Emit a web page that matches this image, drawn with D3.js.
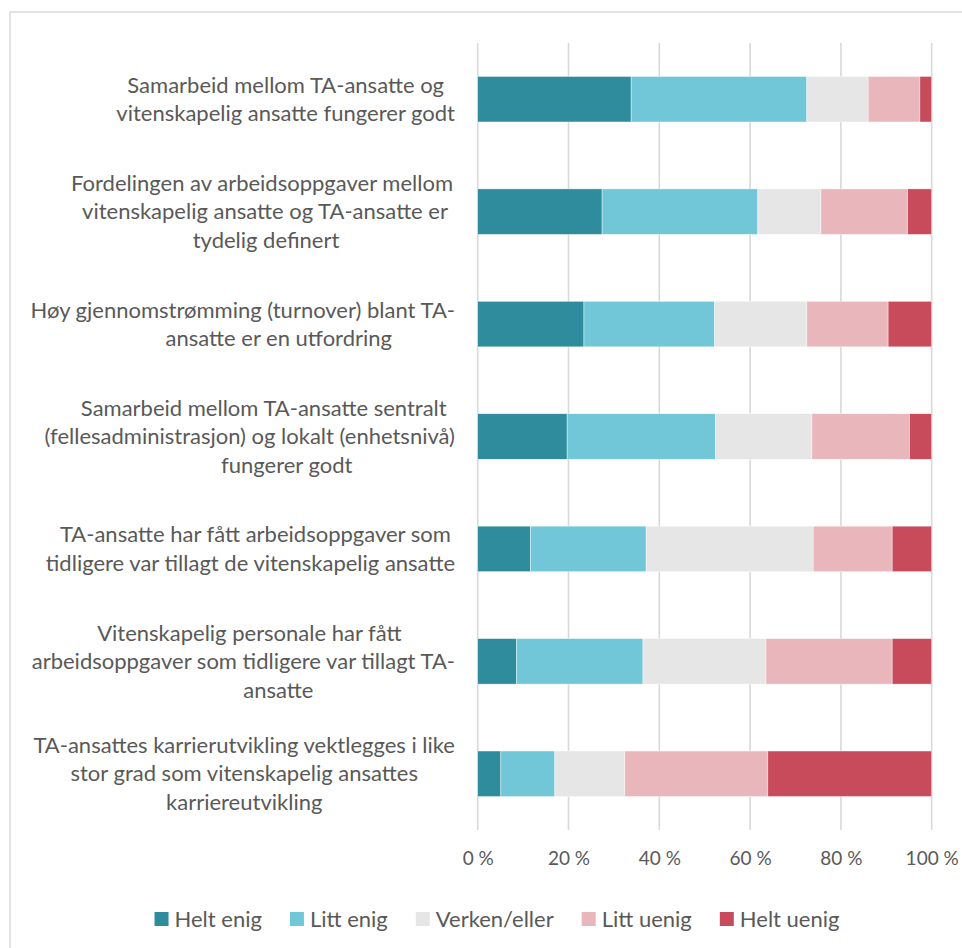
<!DOCTYPE html>
<html>
<head>
<meta charset="utf-8">
<script src="https://cdn.jsdelivr.net/npm/d3@7"></script>
<style>
  html, body { margin: 0; padding: 0; background: #fff; }
  svg { display: block; }
  text { font-family: Lato, "Open Sans", sans-serif; fill: #595959; }
</style>
</head>
<body>
<svg id="chart" width="962" height="948"></svg>
<script>
// Statements (line breaks mark where each label wraps)
const categories = [
  "Samarbeid mellom TA-ansatte og\nvitenskapelig ansatte fungerer godt",
  "Fordelingen av arbeidsoppgaver mellom\nvitenskapelig ansatte og TA-ansatte er\ntydelig definert",
  "Høy gjennomstrømming (turnover) blant TA-\nansatte er en utfordring",
  "Samarbeid mellom TA-ansatte sentralt\n(fellesadministrasjon) og lokalt (enhetsnivå)\nfungerer godt",
  "TA-ansatte har fått arbeidsoppgaver som\ntidligere var tillagt de vitenskapelig ansatte",
  "Vitenskapelig personale har fått\narbeidsoppgaver som tidligere var tillagt TA-\nansatte",
  "TA-ansattes karrierutvikling vektlegges i like\nstor grad som vitenskapelig ansattes\nkarriereutvikling"
];

const seriesNames = ["Helt enig", "Litt enig", "Verken/eller", "Litt uenig", "Helt uenig"];

// Share of responses (%) per statement
const heltEnig  = [33.8, 27.4, 23.4, 19.7, 11.6,  8.5,  5.1];
const littEnig  = [38.7, 34.3, 28.8, 32.7, 25.5, 27.9, 11.9];
const verken    = [13.5, 13.9, 20.3, 21.2, 36.8, 27.1, 15.4];
const littUenig = [11.4, 19.1, 17.9, 21.5, 17.4, 27.8, 31.5];
const heltUenig = [ 2.6,  5.3,  9.6,  4.9,  8.7,  8.7, 36.1];

const tickValues = [0, 20, 40, 60, 80, 100];

const colors = ["#2E8C9C", "#71C7D7", "#E6E6E6", "#E9B7BB", "#C84B5B"];

// Per-line horizontal shift of wrapped label lines (layout only)
const lineShift = [
  [0, 0],
  [-2, 1, 2],
  [0, 36],
  [14, 0, 37],
  [5, 0],
  [6, 0, 35],
  [0, 0, 0]
];

// Build rows for d3.stack
const seriesValues = [heltEnig, littEnig, verken, littUenig, heltUenig];
const rows = categories.map((c, i) => {
  const r = { category: c };
  seriesNames.forEach((s, k) => { r[s] = seriesValues[k][i]; });
  return r;
});

const svg = d3.select("#chart");

// Outer frame
svg.append("rect")
  .attr("x", 10).attr("y", 12)
  .attr("width", 960).attr("height", 940)
  .attr("fill", "none")
  .attr("stroke", "#d9d9d9")
  .attr("stroke-width", 1.5);

const plot = { left: 477.7, right: 931.7, top: 43, bottom: 830 };

const x = d3.scaleLinear().domain([0, 100]).range([plot.left, plot.right]);
const y = d3.scaleBand()
  .domain(categories)
  .range([plot.top, plot.bottom])
  .paddingInner(0.595)
  .paddingOuter(0.2975);

// Vertical gridlines
svg.append("g")
  .selectAll("line")
  .data(tickValues)
  .join("line")
  .attr("x1", d => x(d)).attr("x2", d => x(d))
  .attr("y1", plot.top).attr("y2", plot.bottom)
  .attr("stroke", "#d9d9d9")
  .attr("stroke-width", 1.6);

// Stacked bars
const stacked = d3.stack().keys(seriesNames)(rows);

svg.append("g")
  .selectAll("g")
  .data(stacked)
  .join("g")
  .attr("fill", (d, i) => colors[i])
  .selectAll("rect")
  .data(d => d)
  .join("rect")
  .attr("x", d => x(d[0]))
  .attr("width", d => x(d[1]) - x(d[0]))
  .attr("y", d => y(d.data.category))
  .attr("height", y.bandwidth())
  .attr("stroke", "#ffffff")
  .attr("stroke-width", 0.6)
  .attr("stroke-opacity", 0.7);

// X axis labels
const xAxis = d3.axisBottom(x)
  .tickValues(tickValues)
  .tickFormat(d => d + " %")
  .tickSize(0)
  .tickPadding(0);

const axisG = svg.append("g")
  .attr("transform", `translate(0,${plot.bottom + 21})`)
  .call(xAxis);
axisG.select(".domain").remove();
axisG.selectAll("text")
  .attr("font-size", 19)
  .attr("font-family", "Lato, 'Open Sans', sans-serif")
  .attr("fill", "#595959");

// Category labels: lines centred within a block right-aligned to the axis
const labelRight = 455;
const lineGap = 28.5;
const labelG = svg.append("g");
categories.forEach((cat, ci) => {
  const lines = cat.split("\n");
  const cy = y(cat) + y.bandwidth() / 2;
  const t = labelG.append("text")
    .attr("font-size", 22)
    .attr("text-anchor", "middle");
  const spans = lines.map((ln, i) =>
    t.append("tspan")
      .attr("y", cy + (i - (lines.length - 1) / 2) * lineGap)
      .attr("dy", "0.35em")
      .text(ln)
  );
  const w = d3.max(spans, s => s.node().getComputedTextLength());
  spans.forEach((s, i) => s.attr("x", labelRight - w / 2 + ((lineShift[ci] || [])[i] || 0)));
});

// Legend
const legendY = 919;
const legendG = svg.append("g");
let cursor = 0;
const items = [];
seriesNames.forEach((name, i) => {
  const g = legendG.append("g");
  g.append("rect")
    .attr("x", 0).attr("y", legendY - 7)
    .attr("width", 14).attr("height", 14)
    .attr("fill", colors[i]);
  const tx = g.append("text")
    .attr("x", 20).attr("y", legendY)
    .attr("dy", "0.35em")
    .attr("font-size", 22)
    .text(name);
  const w = 20 + tx.node().getComputedTextLength();
  items.push({ g, offset: cursor });
  cursor += w + 28;
});
const legendWidth = cursor - 28;
const legendStart = 497 - legendWidth / 2;
items.forEach(it => it.g.attr("transform", `translate(${legendStart + it.offset},0)`));
</script>
</body>
</html>
